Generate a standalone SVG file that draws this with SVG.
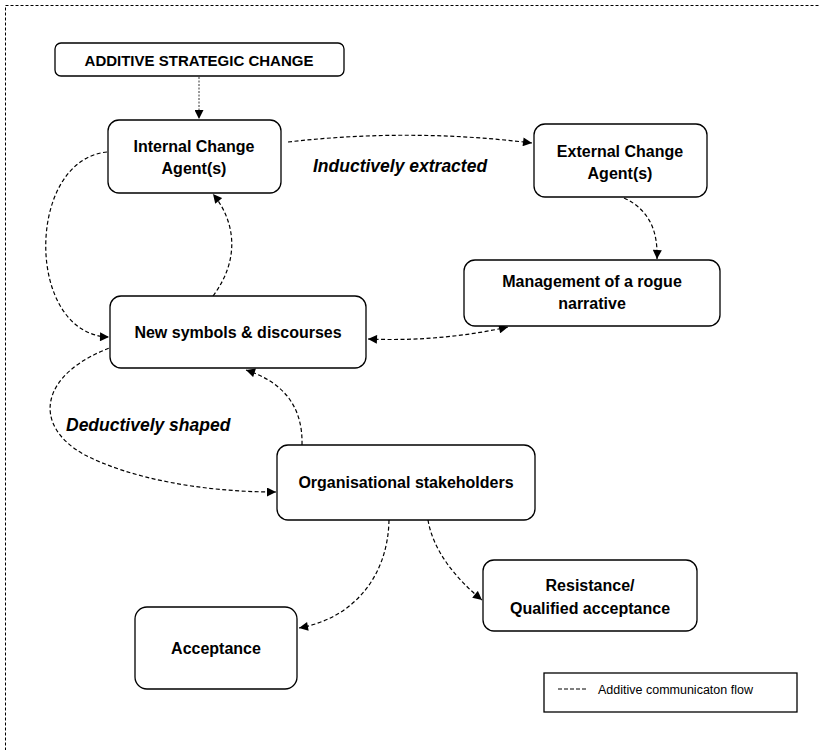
<svg xmlns="http://www.w3.org/2000/svg" width="819" height="750" viewBox="0 0 819 750">
<style>
.box{fill:#fff;stroke:#000;stroke-width:1.3}
.t{font-family:"Liberation Sans",Arial,sans-serif;font-weight:bold;font-size:16px;fill:#000;text-anchor:middle}
.it{font-family:"Liberation Sans",Arial,sans-serif;font-weight:bold;font-style:italic;font-size:17.5px;fill:#000}
.c{fill:none;stroke:#000;stroke-width:1.2;stroke-dasharray:4 2.5}
.thin{fill:none;stroke:#000;stroke-width:0.8;stroke-dasharray:2 1.5}
.leg{font-family:"Liberation Sans",Arial,sans-serif;font-size:12.5px;fill:#000}
</style>
<defs>
<marker id="ah" viewBox="0 0 10 10" refX="10" refY="5" markerWidth="10" markerHeight="9" markerUnits="userSpaceOnUse" orient="auto-start-reverse"><path d="M0,0 L10,5 L0,10 z" fill="#000"/></marker>
</defs>
<rect x="5.5" y="5.5" width="830" height="760" fill="none" stroke="#000" stroke-width="1" stroke-dasharray="3 2"/>

<g id="connectors">
<path class="thin" d="M199,77 L199,119" marker-end="url(#ah)"/>
<path class="c" d="M288,142 Q410,128 532,143" marker-end="url(#ah)"/>
<path class="c" d="M624,198 C650,210 658,232 657,259" marker-end="url(#ah)"/>
<path class="c" d="M107,152 C25,160 25,335 109,337" marker-end="url(#ah)"/>
<path class="c" d="M213,296 C240,260 236,222 213,194" marker-end="url(#ah)"/>
<path class="c" d="M368,339 Q440,342 508,327" marker-start="url(#ah)" marker-end="url(#ah)"/>
<path class="c" d="M302,445 C303,405 282,382 246,370" marker-end="url(#ah)"/>
<path class="c" d="M115,346 C40,372 30,425 85,455 C130,478 200,492 276,492" marker-end="url(#ah)"/>
<path class="c" d="M389,520 C388,575 355,618 299,628" marker-end="url(#ah)"/>
<path class="c" d="M428,520 C433,550 455,578 482,600" marker-end="url(#ah)"/>
</g>

<g id="n-asc"><rect class="box" x="55" y="43" width="289" height="33" rx="6"/><text class="t" x="199" y="66" style="font-size:15px">ADDITIVE STRATEGIC CHANGE</text></g>
<g id="n-internal"><rect class="box" x="108" y="120" width="173" height="73" rx="11"/><text class="t" x="194" y="152">Internal Change</text><text class="t" x="194" y="174">Agent(s)</text></g>
<g id="n-external"><rect class="box" x="534" y="124" width="173" height="73" rx="11"/><text class="t" x="620" y="157">External Change</text><text class="t" x="620" y="179">Agent(s)</text></g>
<g id="n-rogue"><rect class="box" x="464" y="260" width="256" height="66" rx="11"/><text class="t" x="592" y="287">Management of a rogue</text><text class="t" x="592" y="309">narrative</text></g>
<g id="n-symbols"><rect class="box" x="110" y="296" width="256" height="72" rx="11"/><text class="t" x="238" y="338">New symbols &amp; discourses</text></g>
<g id="n-org"><rect class="box" x="277" y="445" width="258" height="75" rx="11"/><text class="t" x="406" y="488">Organisational stakeholders</text></g>
<g id="n-resist"><rect class="box" x="483" y="560" width="214" height="71" rx="11"/><text class="t" x="590" y="591">Resistance/</text><text class="t" x="590" y="614">Qualified acceptance</text></g>
<g id="n-accept"><rect class="box" x="135" y="607" width="162" height="82" rx="12"/><text class="t" x="216" y="654">Acceptance</text></g>

<text class="it" x="313" y="172">Inductively extracted</text>
<text class="it" x="66" y="431">Deductively shaped</text>

<g id="legend"><rect x="544" y="673" width="253" height="39" fill="#fff" stroke="#000" stroke-width="1.3"/><line x1="558" y1="689" x2="588" y2="689" stroke="#000" stroke-width="1.2" stroke-dasharray="4 2"/><text class="leg" x="598" y="694">Additive communicaton flow</text></g>
</svg>
